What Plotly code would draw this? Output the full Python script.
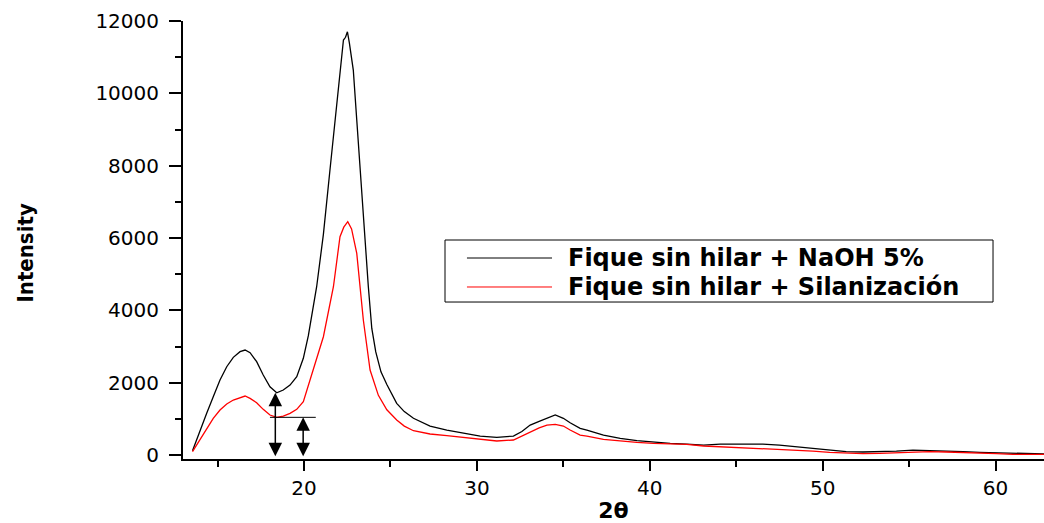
import plotly.graph_objects as go

# ---- data ----
two_theta_black = [13.55, 13.98, 14.37, 14.75, 15.14, 15.53, 15.91, 16.30, 16.59, 16.88, 17.26, 17.64,
                   18.03, 18.42, 18.80, 19.19, 19.58, 19.96, 20.25, 20.73, 21.12, 21.50, 21.79, 22.08,
                   22.28, 22.40, 22.51, 22.62, 22.85, 23.05, 23.24, 23.50, 23.72, 23.92, 24.15, 24.45, 24.79,
                   25.36, 25.80, 26.33, 27.29, 28.26, 29.22, 30.19, 31.15, 32.11, 32.60, 33.08, 33.60,
                   34.05, 34.53, 35.00, 35.39, 35.97, 36.36, 37.32, 38.29, 39.25, 40.21, 41.18, 42.14,
                   43.11, 44.07, 45.04, 46.00, 46.54, 47.50, 48.47, 49.43, 50.40, 51.36, 52.33, 53.29,
                   54.26, 55.22, 56.19, 57.15, 58.12, 59.08, 60.05, 61.00, 61.98, 62.94]
intensity_black = [119, 691, 1153, 1612, 2074, 2441, 2701, 2857, 2903, 2828, 2580, 2212,
                   1888, 1722, 1797, 1935, 2165, 2673, 3300, 4653, 6100, 7880, 9262, 10644,
                   11474, 11550, 11703, 11400, 10644, 9262, 7880, 6200, 4653, 3500, 2850, 2300, 1950,
                   1429, 1200, 1015, 802, 691, 617, 525, 489, 525, 650, 829, 930,
                   1015, 1106, 1015, 893, 738, 691, 553, 461, 396, 351, 323, 304,
                   276, 304, 304, 295, 304, 276, 230, 166, 120, 92, 83, 92,
                   110, 138, 129, 110, 92, 74, 65, 46, 28, 28]

two_theta_red = [13.55, 13.98, 14.37, 14.75, 15.14, 15.53, 15.91, 16.30, 16.59, 16.88, 17.26, 17.64,
                 18.03, 18.42, 18.80, 19.19, 19.58, 19.96, 20.35, 20.54, 21.12, 21.70, 22.08, 22.30,
                 22.53, 22.75, 23.05, 23.43, 23.82, 24.30, 24.79, 25.36, 25.80, 26.33, 27.29, 28.26,
                 29.22, 30.19, 31.15, 32.11, 32.60, 33.08, 33.60, 34.05, 34.53, 35.00, 35.39, 35.97,
                 36.36, 37.32, 38.29, 39.25, 40.21, 41.18, 42.14, 43.11, 44.07, 45.04, 46.00, 46.54,
                 47.50, 48.47, 49.43, 50.40, 51.36, 52.33, 53.29, 54.26, 55.22, 56.19, 57.15, 58.12,
                 59.08, 60.05, 61.00, 61.98, 62.94]
intensity_red = [92, 415, 691, 1015, 1244, 1410, 1521, 1595, 1631, 1567, 1446, 1263,
                 1106, 1042, 1078, 1153, 1263, 1474, 2074, 2350, 3270, 4653, 6036, 6300,
                 6450, 6250, 5576, 3733, 2350, 1650, 1250, 968, 800, 672, 581, 534,
                 489, 434, 387, 415, 520, 645, 750, 829, 848, 802, 691, 553,
                 525, 434, 387, 351, 323, 304, 295, 249, 230, 212, 184, 184,
                 157, 138, 110, 74, 46, 37, 46, 64, 83, 92, 83, 74,
                 55, 37, 18, 18, 18]

series_names = ["Fique sin hilar + NaOH 5%", "Fique sin hilar + Silanización"]
series_colors = ["#000000", "#ff0000"]

x_tick_vals = [20, 30, 40, 50, 60]
y_tick_vals = [0, 2000, 4000, 6000, 8000, 10000, 12000]

# arrow annotation positions (2θ) and the window used to find the valley minima
arrow_black_x = 18.34
arrow_red_x = 19.95
valley_line_x = [18.03, 20.68]
valley_window = (17.0, 20.0)
arrow_bottom = -75

# ---- derived values ----
def valley_min(xs, ys, lo, hi):
    return min(y for x, y in zip(xs, ys) if lo <= x <= hi)

black_min = valley_min(two_theta_black, intensity_black, *valley_window)
red_min = valley_min(two_theta_red, intensity_red, *valley_window)

fig = go.Figure()
fig.add_trace(go.Scatter(x=two_theta_black, y=intensity_black, mode="lines", name=series_names[0],
                         line=dict(color=series_colors[0], width=1.3), showlegend=False))
fig.add_trace(go.Scatter(x=two_theta_red, y=intensity_red, mode="lines", name=series_names[1],
                         line=dict(color=series_colors[1], width=1.3), showlegend=False))

tick_font = dict(family="DejaVu Sans, Arial, sans-serif", size=20, color="#000")

fig.update_layout(
    width=1044, height=523,
    margin=dict(l=183, r=0, t=21, b=64),
    paper_bgcolor="white", plot_bgcolor="white",
    xaxis=dict(range=[13.0, 62.8], tickvals=x_tick_vals, ticks="outside", ticklen=10, tickwidth=2,
               tickcolor="#000", showline=True, linecolor="#000", linewidth=2, showgrid=False,
               zeroline=False, tickfont=tick_font,
               minor=dict(dtick=5, tick0=0, ticks="outside", ticklen=6, tickwidth=2, tickcolor="#000", showgrid=False),
               title=dict(text="<b>2θ</b>", font=dict(family="DejaVu Sans, Arial, sans-serif", size=22, color="#000"),
                          standoff=6)),
    yaxis=dict(range=[-110, 12000], tickvals=y_tick_vals, tickformat="d", ticks="outside", ticklen=12, tickwidth=2,
               tickcolor="#000", showline=True, linecolor="#000", linewidth=2, showgrid=False,
               zeroline=False, tickfont=tick_font, ticklabelstandoff=6,
               minor=dict(dtick=1000, tick0=0, ticks="outside", ticklen=6, tickwidth=2, tickcolor="#000", showgrid=False)),
)

# y axis title (placed as annotation to match position)
fig.add_annotation(text="<b>Intensity</b>", textangle=-90, xref="paper", yref="paper",
                   x=-0.183, y=0.47, xanchor="center", yanchor="middle", showarrow=False,
                   font=dict(family="DejaVu Sans Condensed, Liberation Sans Narrow, Arial Narrow, sans-serif", size=22, color="#000"))

# valley marker lines/arrows
fig.add_shape(type="line", xref="x", yref="y", x0=valley_line_x[0], x1=valley_line_x[1],
              y0=red_min, y1=red_min, line=dict(color="#000", width=1))
for ax_x, top in [(arrow_black_x, black_min), (arrow_red_x, red_min)]:
    fig.add_annotation(x=ax_x, y=top, ax=ax_x, ay=arrow_bottom, xref="x", yref="y", axref="x", ayref="y",
                       text="", showarrow=True, arrowside="end+start", arrowhead=2, arrowsize=1.8,
                       arrowwidth=1.5, arrowcolor="#000", standoff=0, startstandoff=0)

# manual legend
fig.add_shape(type="rect", xref="paper", yref="paper", x0=0.3043, x1=0.9408, y0=0.3584, y1=0.5,
              line=dict(color="#000", width=1), fillcolor="white", layer="above")
legend_rows_y = [0.4589, 0.3927]
for name, color, ly in zip(series_names, series_colors, legend_rows_y):
    fig.add_shape(type="line", xref="paper", yref="paper", x0=0.3298, x1=0.4286, y0=ly, y1=ly,
                  line=dict(color=color, width=1), layer="above")
    fig.add_annotation(text="<b>" + name + "</b>", xref="paper", yref="paper", x=0.4448, y=ly,
                       xanchor="left", yanchor="middle", showarrow=False,
                       font=dict(family="DejaVu Sans, Arial, sans-serif", size=24, color="#000"))

fig.write_html("out.html")
